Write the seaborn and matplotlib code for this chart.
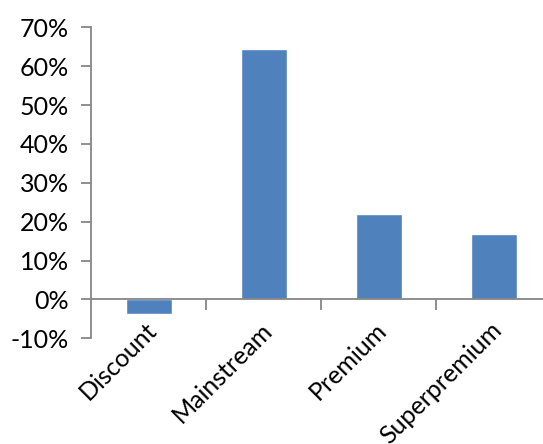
import matplotlib
matplotlib.use("Agg")
import matplotlib.pyplot as plt
import matplotlib.transforms as mtransforms
from matplotlib.ticker import PercentFormatter, FixedLocator
import seaborn as sns
import pandas as pd

segments = ["Discount", "Mainstream", "Premium", "Superpremium"]
growth = [-0.037, 0.644, 0.220, 0.168]

sns.set_theme(style="white")
plt.rcParams["font.family"] = ["Lato", "DejaVu Sans"]
plt.rcParams["axes.unicode_minus"] = False

df = pd.DataFrame({"segment": segments, "growth": growth})

W, H = 543, 444
fig = plt.figure(figsize=(W / 100, H / 100), dpi=100)
left, right = 91, 551
top, bottom = 27.3, 338.3
ax = fig.add_axes([left / W, 1 - bottom / H, (right - left) / W, (bottom - top) / H])

sns.barplot(data=df, x="segment", y="growth", color="#4F81BD", width=0.4,
            saturation=1, ax=ax)

ax.set_xlim(-0.5, 3.5)
ax.set_ylim(-0.1, 0.7)
ax.set_xlabel("")
ax.set_ylabel("")

axis_col = "#868686"
for s in ["top", "right"]:
    ax.spines[s].set_visible(False)
ax.spines["left"].set_color(axis_col)
ax.spines["left"].set_linewidth(1.3)
ax.spines["bottom"].set_color(axis_col)
ax.spines["bottom"].set_linewidth(1.3)
ax.spines["bottom"].set_position(("data", 0))

ax.yaxis.set_major_locator(FixedLocator([i / 10 for i in range(-1, 8)]))
ax.yaxis.set_major_formatter(PercentFormatter(1.0, decimals=0))
ax.tick_params(axis="y", direction="out", length=7, width=1.3, color=axis_col,
               labelsize=18, labelcolor="black", pad=9, left=True)

# category boundary ticks on the zero line, labels drawn separately below the plot
ax.xaxis.set_major_locator(FixedLocator([0.5, 1.5, 2.5]))
ax.tick_params(axis="x", direction="out", length=8, width=1.3, color=axis_col,
               labelbottom=False, bottom=True)

trans = mtransforms.blended_transform_factory(ax.transData, ax.transAxes)
for i, name in enumerate(segments):
    ax.text(i - 0.03, 0.065, name, transform=trans, rotation=45, ha="right", va="top",
            rotation_mode="anchor", fontsize=18, color="black")

fig.savefig("out.png", dpi=100, facecolor="white")
